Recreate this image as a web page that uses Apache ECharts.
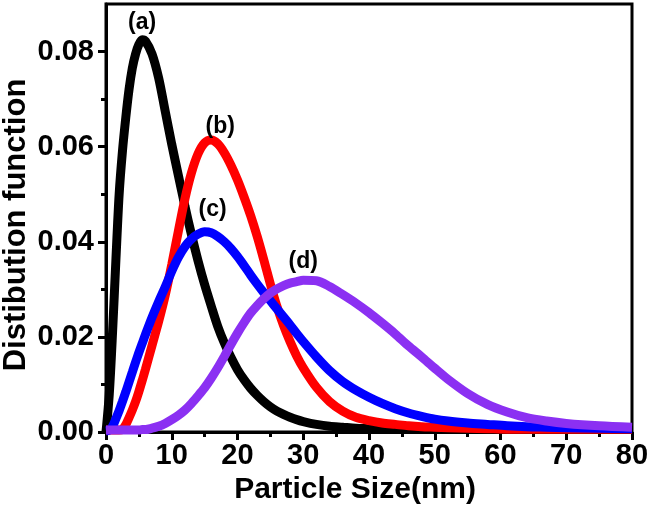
<!DOCTYPE html>
<html>
<head>
<meta charset="utf-8">
<script src="https://cdn.jsdelivr.net/npm/echarts@6/dist/echarts.min.js"></script>
<style>
  html, body { margin: 0; padding: 0; background: #fff; }
  #chart { width: 651px; height: 514px; }
</style>
</head>
<body>
<div id="chart"></div>
<script>
// Particle size (nm) sample positions
const sizes = [0,0.5,1,1.5,2,2.5,3,3.5,4,4.5,5,5.5,6,
  7,8,9,10,11,12,13,14,15,16,17,18,19,20,21,22,23,24,25,26,27,28,29,30,
  32,34,36,38,40,42,44,46,48,50,52,
  55,58,61,64,67,70,75,80];

// (a) black
const curveA = [0,0.008,0.021,0.036,0.050,0.059,0.066,0.072,0.0765,0.0795,0.0815,0.0825,0.0822,
  0.0795,0.0745,0.0675,0.0605,0.054,0.0475,0.0415,0.036,0.031,0.0265,0.0222,0.0187,0.0157,0.0131,0.011,0.0092,0.0077,0.0064,0.0053,0.0044,0.0037,0.0031,0.0026,0.0022,
  0.0016,0.0012,0.001,0.0008,0.0007,0.0006,0.0006,0.0006,0.0006,0.0006,0.0006,
  0.0006,0.0006,0.0006,0.0006,0.0006,0.0006,0.0006,0.0006];
// (b) red
const curveB = [0.0004,0.0004,0.0004,0.0004,0.0004,0.0006,0.0015,0.003,0.0046,0.0064,0.0085,0.0108,0.0132,
  0.0182,0.0232,0.0287,0.0352,0.0422,0.049,0.0545,0.0585,0.0608,0.0614,0.0606,0.0587,0.0561,0.053,0.0494,0.0455,0.0411,0.0362,0.0311,0.0264,0.0224,0.019,0.016,0.0135,
  0.0094,0.0064,0.0044,0.0031,0.0024,0.0019,0.0016,0.0013,0.0011,0.001,0.0009,
  0.0008,0.0007,0.0006,0.0006,0.0006,0.0006,0.0006,0.0006];
// (c) blue
const curveC = [0.0002,0.0004,0.0012,0.0028,0.0045,0.0064,0.0084,0.0105,0.0126,0.0147,0.0167,0.0186,0.0205,
  0.0241,0.0274,0.0305,0.0338,0.0367,0.039,0.0406,0.0416,0.0421,0.0419,0.0411,0.04,0.0386,0.0369,0.035,0.033,0.0311,0.0293,0.0276,0.0259,0.0242,0.0225,0.0207,0.019,
  0.0158,0.0129,0.0106,0.0088,0.0073,0.006,0.0049,0.004,0.0033,0.0027,0.0023,
  0.0019,0.0016,0.0013,0.0011,0.001,0.0009,0.0008,0.0007];
// (d) purple
const curveD = [0.0004,0.0004,0.0004,0.0004,0.0004,0.0004,0.0004,0.0004,0.0004,0.0004,0.0004,0.0005,0.0005,
  0.0008,0.0012,0.0018,0.0026,0.0035,0.0046,0.006,0.0076,0.0093,0.0113,0.0135,0.0159,0.0184,0.0208,0.023,0.025,0.0266,0.028,0.0292,0.0301,0.0308,0.0313,0.0316,0.0319,
  0.0318,0.0306,0.0289,0.0271,0.0251,0.0229,0.0206,0.0181,0.0158,0.0134,0.0111,
  0.0081,0.0058,0.0042,0.003,0.0023,0.0018,0.0013,0.001];

const seriesNames = ['(a)', '(b)', '(c)', '(d)'];
const xTicks = [0, 10, 20, 30, 40, 50, 60, 70, 80];
const yMajorTicks = [0, 0.02, 0.04, 0.06, 0.08];
const yMinorTicks = [0.01, 0.03, 0.05, 0.07];

const FONT = 'Liberation Sans, Arial, sans-serif';
const colors = ['#000000', '#ff0000', '#0000ff', '#8b30f2'];
const labelOffsets = [[0, -17], [9, -13], [8, -22], [0, -19]];
const curves = [curveA, curveB, curveC, curveD];

const chart = echarts.init(document.getElementById('chart'), null, { renderer: 'canvas' });

const series = curves.map((c, i) => ({
  name: seriesNames[i],
  type: 'line',
  data: sizes.map((x, k) => [x, c[k]]),
  showSymbol: false,
  smooth: 0.3,
  lineStyle: { color: colors[i], width: 9 },
  itemStyle: { color: colors[i] },
  z: 3 + i,
  markPoint: {
    symbol: 'circle',
    symbolSize: 1,
    itemStyle: { color: 'rgba(0,0,0,0)' },
    label: {
      show: true,
      position: 'inside',
      offset: labelOffsets[i],
      formatter: seriesNames[i],
      color: '#000',
      fontFamily: FONT,
      fontWeight: 'bold',
      fontSize: 23
    },
    data: [{ type: 'max' }]
  }
}));

const option = {
  backgroundColor: '#fff',
  animation: false,
  grid: {
    left: 106, right: 19, top: 4, bottom: 82,
    outerBoundsMode: 'none',
    containLabel: false,
    show: true, borderColor: '#000', borderWidth: 3, backgroundColor: 'transparent'
  },
  xAxis: {
    type: 'value',
    min: 0, max: 80, interval: 10,
    name: 'Particle Size(nm)',
    nameLocation: 'middle',
    nameGap: 40,
    nameTextStyle: { color: '#000', fontFamily: FONT, fontWeight: 'bold', fontSize: 30, padding: [0, 28, 0, 0], verticalAlign: 'top' },
    axisLine: { show: true, lineStyle: { color: '#000', width: 3 } },
    axisTick: { show: true, length: 8, lineStyle: { color: '#000', width: 3 } },
    minorTick: { show: true, splitNumber: 2, length: 5, lineStyle: { color: '#000', width: 3 } },
    axisLabel: {
      color: '#000', fontFamily: FONT, fontWeight: 'bold', fontSize: 29, margin: 9,
      customValues: xTicks
    },
    splitLine: { show: false },
    minorSplitLine: { show: false }
  },
  yAxis: [{
    type: 'value',
    min: 0, max: 0.09,
    name: 'Distibution function',
    nameLocation: 'middle',
    nameGap: 74,
    nameMoveOverlap: false,
    nameTextStyle: { color: '#000', fontFamily: FONT, fontWeight: 'bold', fontSize: 31, padding: [0, 14, 0, 0] },
    axisLine: { show: true, lineStyle: { color: '#000', width: 3 } },
    axisTick: { show: true, length: 8, lineStyle: { color: '#000', width: 3 }, customValues: yMajorTicks },
    axisLabel: {
      color: '#000', fontFamily: FONT, fontWeight: 'bold', fontSize: 29, margin: 12,
      customValues: yMajorTicks,
      formatter: v => v.toFixed(2)
    },
    splitLine: { show: false }
  }, {
    type: 'value',
    min: 0, max: 0.09,
    position: 'left',
    offset: 0,
    axisLine: { show: false },
    axisTick: { show: true, length: 5, lineStyle: { color: '#000', width: 3 }, customValues: yMinorTicks },
    axisLabel: { show: false },
    splitLine: { show: false }
  }],
  series: series
};

chart.setOption(option);
</script>
</body>
</html>
